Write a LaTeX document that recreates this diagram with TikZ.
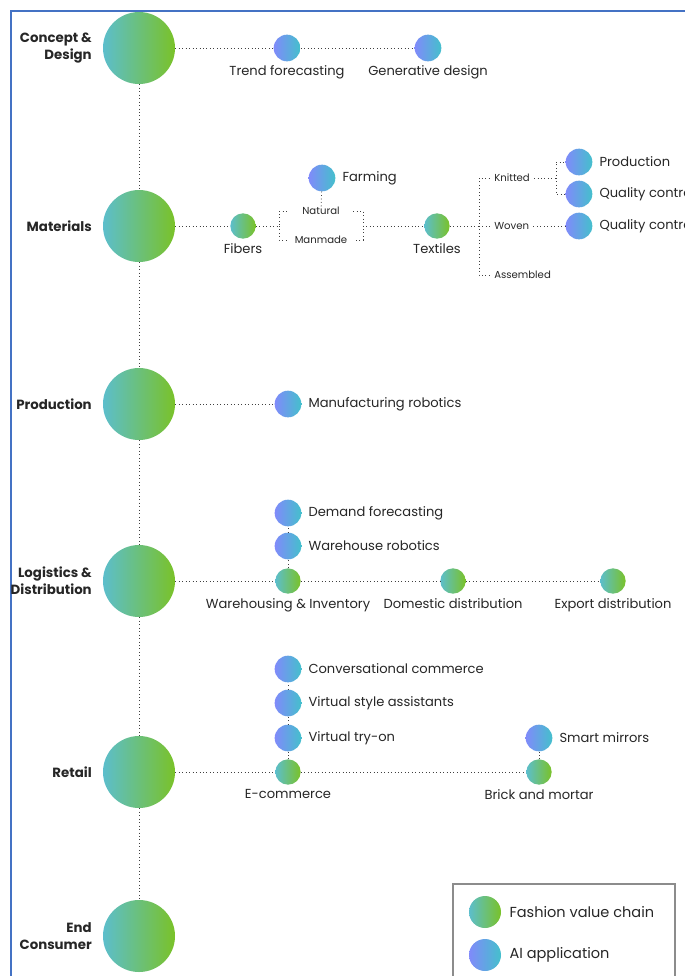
\documentclass[tikz,border=0pt]{standalone}
\usepackage{fontspec}
\setmainfont{Poppins}
\usetikzlibrary{positioning}

\definecolor{chainteal}{RGB}{92,190,204}
\definecolor{chaingreen}{RGB}{122,194,40}
\definecolor{aiblue}{RGB}{128,138,250}
\definecolor{aiteal}{RGB}{68,192,204}
\definecolor{frameblue}{RGB}{68,114,196}

\begin{document}
\begin{tikzpicture}[
    x=0.75pt, y=-0.75pt,
    node distance=2pt,
    bigstage/.style={circle, minimum size=54pt, inner sep=0pt, left color=chainteal, right color=chaingreen},
    vchain/.style={circle, minimum size=19pt, inner sep=0pt, left color=chainteal, right color=chaingreen},
    aiapp/.style={circle, minimum size=20pt, inner sep=0pt, left color=aiblue, right color=aiteal},
    stagetext/.style={font=\fontsize{10}{12.5}\selectfont\bfseries, align=right, anchor=east, inner sep=0pt, text=black!85},
    lbl/.style={font=\fontsize{9.8}{12}\selectfont, inner sep=1pt, text=black!85},
    tag/.style={font=\fontsize{7.6}{9}\selectfont, inner sep=0pt, minimum width=48pt, text=black!85},
    sidetag/.style={tag, anchor=west, minimum width=0pt, inner xsep=3pt},
    link/.style={dotted, black!75, line width=0.6pt}
]
    \path[use as bounding box, clip] (0,0) rectangle (685,976);

    % Frame
    \draw[frameblue, line width=1.2pt] (11,990) -- (11,11) -- (700,11);

    % Value chain stages
    \node[bigstage] (concept) at (139,48) {};
    \node[bigstage] (materials) at (139,226) {};
    \node[bigstage] (production) at (139,404) {};
    \node[bigstage] (logistics) at (139,581) {};
    \node[bigstage] (retail) at (139,772) {};
    \node[bigstage] (consumer) at (139,936) {};

    \node[stagetext] (conceptl) at (92,48) {Concept \&\\Design};
    \node[stagetext] (materialsl) at (92,226) {Materials};
    \node[stagetext] (productionl) at (92,404) {Production};
    \node[stagetext] (logisticsl) at (92,581) {Logistics \&\\Distribution};
    \node[stagetext] (retaill) at (92,772) {Retail};
    \node[stagetext] (consumerl) at (92,936) {End\\Consumer};

    \draw[link] (concept) -- (materials) -- (production) -- (logistics) -- (retail) -- (consumer);

    % Concept & Design
    \node[aiapp] (trend) at (287,48) {};
    \node[lbl, below=of trend] (trendl) {Trend forecasting};
    \node[aiapp] (gendes) at (428,48) {};
    \node[lbl, below=of gendes] (gendesl) {Generative design};
    \draw[link] (concept) -- (trend) -- (gendes);

    % Materials
    \node[vchain] (fibers) at (243,226) {};
    \node[lbl, below=of fibers] (fibersl) {Fibers};
    \node[tag] (natural) at (321,211) {Natural};
    \node[tag] (manmade) at (321,240) {Manmade};
    \node[aiapp] (farming) at (322,178) {};
    \node[lbl, right=4pt of farming] (farmingl) {Farming};
    \coordinate (fibsplit) at (279,226);
    \coordinate (fibjoin) at (363,226);
    \node[vchain] (textiles) at (437,226) {};
    \node[lbl, below=of textiles] (textilesl) {Textiles};
    \draw[link] (materials) -- (fibers) -- (fibsplit) |- (natural);
    \draw[link] (fibsplit) |- (manmade);
    \draw[link] (natural) -| (fibjoin) |- (manmade);
    \draw[link] (fibjoin) -- (textiles);
    \draw[link] (farming) -- (natural);

    \node[sidetag] (knitted) at (490,178) {Knitted};
    \node[sidetag] (woven) at (490,226) {Woven};
    \node[sidetag] (assembled) at (490,275) {Assembled};
    \coordinate (texsplit) at (479,226);
    \coordinate (knitsplit) at (556,178);
    \node[aiapp] (prod) at (579,162) {};
    \node[lbl, right=4pt of prod] (prodl) {Production};
    \node[aiapp] (qcknit) at (579,194) {};
    \node[lbl, right=4pt of qcknit] (qcknitl) {Quality control};
    \node[aiapp] (qcwoven) at (579,226) {};
    \node[lbl, right=4pt of qcwoven] (qcwovenl) {Quality control};
    \draw[link] (textiles) -- (texsplit) |- (knitted);
    \draw[link] (texsplit) |- (assembled);
    \draw[link] (texsplit) -- (woven) -- (qcwoven);
    \draw[link] (knitted) -- (knitsplit) |- (prod);
    \draw[link] (knitsplit) |- (qcknit);

    % Production
    \node[aiapp] (manuf) at (288,404) {};
    \node[lbl, right=4pt of manuf] (manufl) {Manufacturing robotics};
    \draw[link] (production) -- (manuf);

    % Logistics & Distribution
    \node[vchain] (warehousing) at (288,581) {};
    \node[lbl, below=of warehousing] (warehousingl) {Warehousing \& Inventory};
    \node[vchain] (domestic) at (453,581) {};
    \node[lbl, below=of domestic] (domesticl) {Domestic distribution};
    \node[vchain] (export) at (613,581) {};
    \node[lbl, below=of export] (exportl) {Export distribution};
    \node[aiapp] (whrobot) at (288,546) {};
    \node[lbl, right=4pt of whrobot] (whrobotl) {Warehouse robotics};
    \node[aiapp] (demand) at (288,513) {};
    \node[lbl, right=4pt of demand] (demandl) {Demand forecasting};
    \draw[link] (logistics) -- (warehousing) -- (domestic) -- (export);
    \draw[link] (warehousing) -- (whrobot) -- (demand);

    % Retail
    \node[vchain] (ecommerce) at (288,772) {};
    \node[lbl, below=of ecommerce] (ecommercel) {E-commerce};
    \node[aiapp] (tryon) at (288,738) {};
    \node[lbl, right=4pt of tryon] (tryonl) {Virtual try-on};
    \node[aiapp] (styleast) at (288,703) {};
    \node[lbl, right=4pt of styleast] (styleastl) {Virtual style assistants};
    \node[aiapp] (convcom) at (288,669) {};
    \node[lbl, right=4pt of convcom] (convcoml) {Conversational commerce};
    \node[vchain] (brick) at (539,772) {};
    \node[lbl, below=of brick] (brickl) {Brick and mortar};
    \node[aiapp] (mirrors) at (539,738) {};
    \node[lbl, right=4pt of mirrors] (mirrorsl) {Smart mirrors};
    \draw[link] (retail) -- (ecommerce) -- (brick) -- (mirrors);
    \draw[link] (ecommerce) -- (tryon) -- (styleast) -- (convcom);

    % Legend
    \draw[black!45, line width=0.8pt] (453,884) rectangle (675,995);
    \node[vchain, minimum size=24pt] (legchain) at (485,912) {};
    \node[lbl, font=\fontsize{10.9}{13}\selectfont, right=5pt of legchain] (legchainl) {Fashion value chain};
    \node[aiapp, minimum size=24pt] (legai) at (485,955) {};
    \node[lbl, font=\fontsize{10.9}{13}\selectfont, right=5pt of legai] (legail) {AI application};
\end{tikzpicture}
\end{document}
